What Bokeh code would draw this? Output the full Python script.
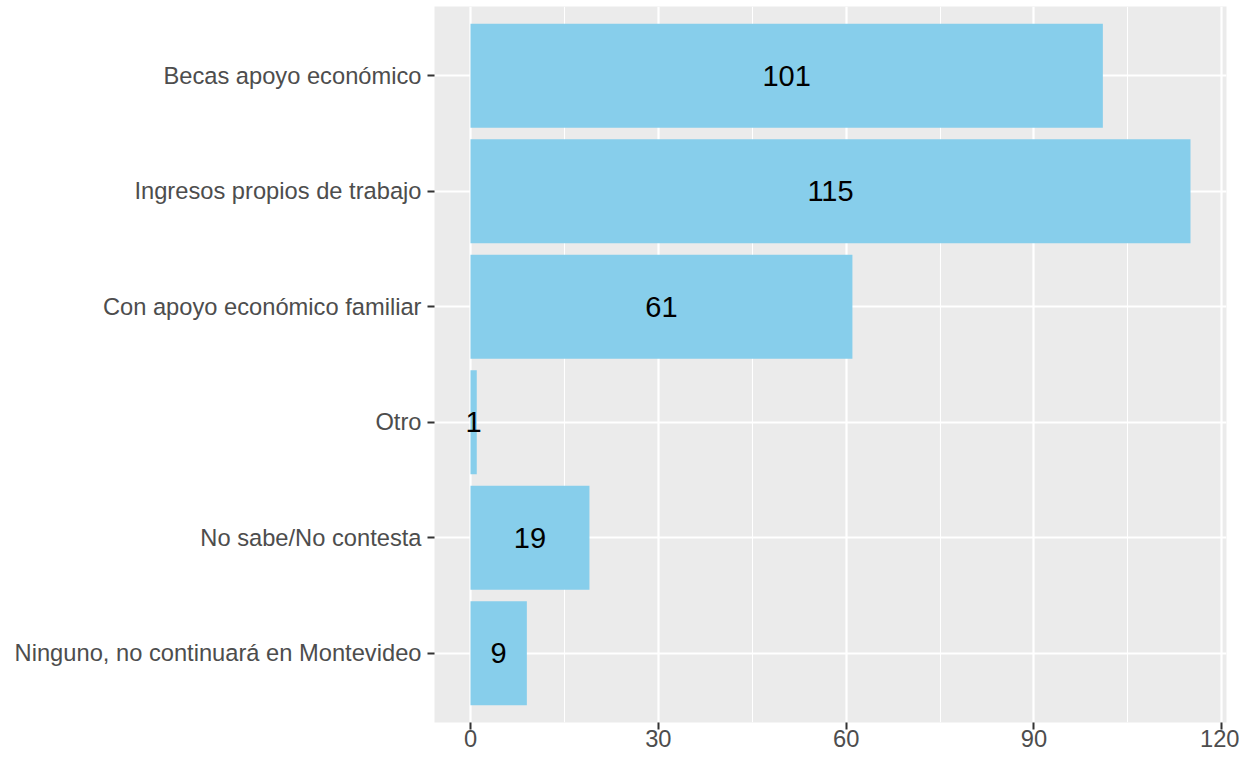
from bokeh.plotting import figure
from bokeh.models import ColumnDataSource, FixedTicker, Range1d
from bokeh.core.properties import value
from bokeh.embed import file_html
from bokeh.resources import INLINE

# Data (top to bottom as in the reference)
categories = [
    "Becas apoyo económico",
    "Ingresos propios de trabajo",
    "Con apoyo económico familiar",
    "Otro",
    "No sabe/No contesta",
    "Ninguno, no continuará en Montevideo",
]
counts = [101, 115, 61, 1, 19, 9]
x_ticks = [0, 30, 60, 90, 120]
x_minor = [15, 45, 75, 105]

n = len(categories)
ypos = [n - i for i in range(n)]  # top category at highest position

src = ColumnDataSource(dict(
    y=ypos,
    right=counts,
    mid=[c / 2 for c in counts],
    label=[str(c) for c in counts],
    cat=categories,
))

FONT = "Liberation Sans"

xmax = max(counts)
pad = 0.05 * xmax
p = figure(
    width=1239, height=756,
    x_range=Range1d(-pad, xmax + pad),
    y_range=Range1d(0.4, n + 0.6),
    output_backend="svg", toolbar_location=None,
    min_border_left=434, min_border_right=13, min_border_top=6,
    min_border_bottom=34,
)
p.background_fill_color = "#EBEBEB"
p.border_fill_color = "white"
p.outline_line_color = None

p.hbar(y="y", left=0, right="right", height=0.9, source=src,
       fill_color="#87CEEB", line_color=None)

p.text(x="mid", y="y", text="label", source=src,
       text_align="center", text_baseline="middle",
       text_font=value(FONT), text_font_size="29px", text_color="black")

# Grid
p.xaxis.ticker = FixedTicker(ticks=x_ticks, minor_ticks=x_minor)
p.yaxis.ticker = FixedTicker(ticks=ypos)
p.yaxis.major_label_overrides = {y: c for y, c in zip(ypos, categories)}

p.xgrid.grid_line_color = "white"
p.xgrid.grid_line_width = 2.2
p.xgrid.minor_grid_line_color = "white"
p.xgrid.minor_grid_line_width = 1.1
p.ygrid.grid_line_color = "white"
p.ygrid.grid_line_width = 2.2

for ax in (p.xaxis, p.yaxis):
    ax.axis_line_color = None
    ax.major_tick_line_color = "#333333"
    ax.major_tick_line_width = 2
    ax.major_tick_out = 7
    ax.major_tick_in = 0
    ax.minor_tick_line_color = None
    ax.major_label_text_font = FONT
    ax.major_label_text_font_size = "23.7px"
    ax.major_label_text_color = "#4D4D4D"

p.yaxis.major_label_standoff = 6
p.xaxis.major_label_standoff = 0

open("out.html", "w").write(file_html(p, INLINE))
